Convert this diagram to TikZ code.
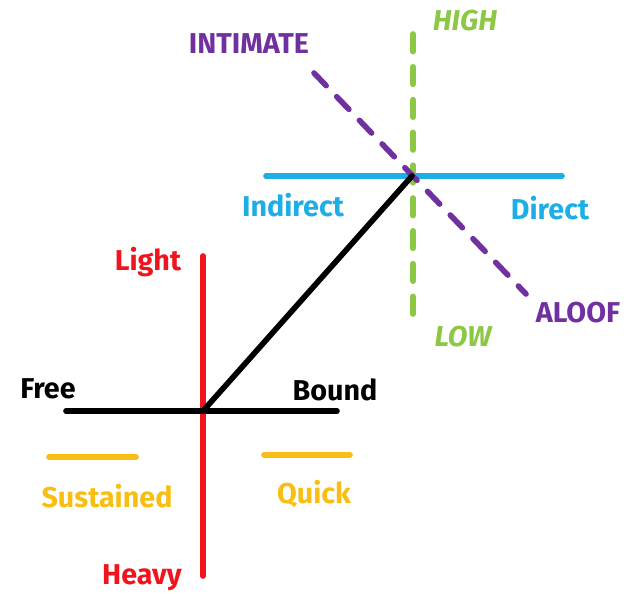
\documentclass[tikz,border=0pt]{standalone}
\usepackage{fontspec}
\setmainfont{Fira Sans}
\usepackage{tikz}
\usetikzlibrary{positioning}

\definecolor{effred}{RGB}{240,20,30}
\definecolor{effblue}{RGB}{30,174,230}
\definecolor{effgreen}{RGB}{140,200,70}
\definecolor{effpurple}{RGB}{112,48,160}
\definecolor{efforange}{RGB}{248,190,20}

\begin{document}
\begin{tikzpicture}[x=0.03cm,y=-0.03cm,font=\fontsize{24.5}{27}\selectfont\bfseries,
  ax/.style={line width=4.8pt,line cap=round},
  dashax/.style={ax,dash pattern=on 15pt off 13pt},
  lbl/.style={inner sep=0pt,anchor=center}]
  \useasboundingbox (0,0) rectangle (633,594);
  % effort axes
  \coordinate (wtop) at (203,256);
  \coordinate (wbot) at (203,576);
  \coordinate (fl) at (66,411);
  \coordinate (fr) at (337,411);
  \coordinate (c) at (203,411);
  \coordinate (sp) at (412,176);
  \coordinate (sl) at (266,176);
  \coordinate (sr) at (562,176);
  \coordinate (ht) at (413,34);
  \coordinate (hb) at (413,329);
  \coordinate (it) at (314,73);
  \coordinate (ib) at (526,294);
  \coordinate (s1) at (49,457);
  \coordinate (s2) at (136,457);
  \coordinate (q1) at (264,455);
  \coordinate (q2) at (350,455);
  % labels
  \node[lbl,effpurple] (intimate) at (249,44) {INTIMATE};
  \node[lbl,effgreen,font=\fontsize{24.5}{27}\selectfont\bfseries\itshape] (high) at (465,21) {HIGH};
  \node[lbl,effblue] (indirect) at (293,205) {Indirect};
  \node[lbl,effblue] (direct) at (550,208) {Direct};
  \node[lbl,effred] (light) at (148,262) {Light};
  \node[lbl,effpurple] (aloof) at (578,313) {ALOOF};
  \node[lbl,effgreen,font=\fontsize{24.5}{27}\selectfont\bfseries\itshape] (low) at (463,337) {LOW};
  \node[lbl] (free) at (48,389) {Free};
  \node[lbl] (bound) at (335,390) {Bound};
  \node[lbl,efforange] (sustained) at (107,496) {Sustained};
  \node[lbl,efforange] (quick) at (314,494) {Quick};
  \node[lbl,effred] (heavy) at (142,578) {Heavy};
  % lines
  \draw[ax,effblue] (sl) -- (sr);
  \draw[dashax,effgreen] (ht) -- (hb);
  \draw[dashax,effpurple] (it) -- (ib);
  \draw[ax,effred] (wtop) -- (wbot);
  \draw[ax] (fl) -- (fr);
  \draw[ax] (c) -- (sp);
  \draw[ax,efforange] (s1) -- (s2);
  \draw[ax,efforange] (q1) -- (q2);
\end{tikzpicture}
\end{document}
